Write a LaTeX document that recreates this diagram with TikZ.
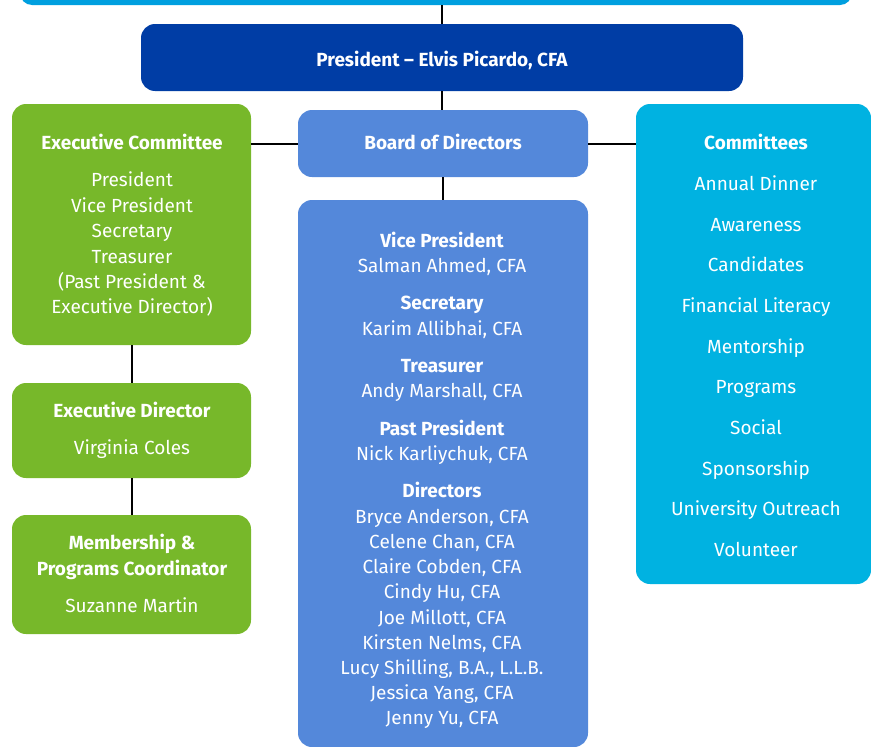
\documentclass[tikz,border=0pt]{standalone}
\usepackage{fontspec}
\setmainfont{Fira Sans}
\definecolor{barblue}{HTML}{009FDF}
\definecolor{presblue}{HTML}{003DA5}
\definecolor{boardblue}{HTML}{5488DA}
\definecolor{execgreen}{HTML}{77B82A}
\definecolor{commblue}{HTML}{00B2E1}
\tikzset{
	box/.style={rounded corners=14pt, inner sep=0pt, draw=none},
	txt/.style={text=white, inner sep=0pt, text height=17pt, text depth=4pt,
		font=\fontsize{19}{21}\selectfont},
	head/.style={txt, font=\fontsize{19}{21}\selectfont\bfseries},
	link/.style={line width=2pt, black}
}
\begin{document}
\begin{tikzpicture}[x=1pt, y=-1pt]
	\useasboundingbox (0,0) rectangle (871,747);
	% Kaesten
	\node[box, fill=barblue, minimum width=832pt, minimum height=30pt, rounded corners=12pt] (bar) at (436,-10) {};
	\node[box, fill=presblue, minimum width=602pt, minimum height=67pt] (pres) at (442,57.5) {};
	\node[box, fill=boardblue, minimum width=290pt, minimum height=67pt] (board) at (443,143.5) {};
	\node[box, fill=execgreen, minimum width=239pt, minimum height=241pt] (exec) at (131.5,224.5) {};
	\node[box, fill=execgreen, minimum width=239pt, minimum height=95pt] (execdir) at (131.5,430.5) {};
	\node[box, fill=execgreen, minimum width=239pt, minimum height=119pt] (member) at (131.5,574.5) {};
	\node[box, fill=commblue, minimum width=235pt, minimum height=480pt] (comm) at (753.5,344) {};
	\node[box, fill=boardblue, minimum width=290pt, minimum height=547pt] (dirs) at (443,473.5) {};
	% Verbindungen
	\draw[link] (pres.north) -- (pres.north |- bar.south);
	\draw[link] (pres.south) -- (pres.south |- board.north);
	\draw[link] (board.west) -- (exec.east |- board.west);
	\draw[link] (board.east) -- (comm.west |- board.east);
	\draw[link] (board.south) -- (board.south |- dirs.north);
	\draw[link] (exec.south) -- (execdir.north);
	\draw[link] (execdir.south) -- (member.north);
	% Praesident und Vorstand
	\node[head] (prestxt) at (442,60) {President – Elvis Picardo, CFA};
	\node[head] (boardtxt) at (443,143) {Board of Directors};
	% Executive Committee
	\node[head] (exectitle) at (132,143) {Executive Committee};
	\foreach \role [count=\i] in {President, Vice President, Secretary, Treasurer, {(Past President \&}, {Executive Director)}}
		\node[txt] (e\i) at (132, 155+25.4*\i) {\role};
	% Executive Director
	\node[head] (edtitle) at (132,411) {Executive Director};
	\node[txt] (edname) at (132,448) {Virginia Coles};
	% Membership
	\node[head] (mtitle1) at (132,543) {Membership \&};
	\node[head] (mtitle2) at (132,569) {Programs Coordinator};
	\node[txt] (mname) at (132,606) {Suzanne Martin};
	% Committees
	\node[head] (commtitle) at (756,143) {Committees};
	\foreach \name [count=\i] in {Annual Dinner, Awareness, Candidates, Financial Literacy, Mentorship, Programs, Social, Sponsorship, University Outreach, Volunteer}
		\node[txt] (c\i) at (756, 143.4+40.65*\i) {\name};
	% Officers
	\node[head] (vptitle) at (442,241) {Vice President};
	\node[txt] (vpname) at (442,266) {Salman Ahmed, CFA};
	\node[head] (sectitle) at (442,303) {Secretary};
	\node[txt] (secname) at (442,329) {Karim Allibhai, CFA};
	\node[head] (trtitle) at (442,366) {Treasurer};
	\node[txt] (trname) at (442,391) {Andy Marshall, CFA};
	\node[head] (pptitle) at (442,429) {Past President};
	\node[txt] (ppname) at (442,454) {Nick Karliychuk, CFA};
	% Directors
	\node[head] (dirtitle) at (442,491) {Directors};
	\foreach \name [count=\i] in {{Bryce Anderson, CFA}, {Celene Chan, CFA}, {Claire Cobden, CFA}, {Cindy Hu, CFA}, {Joe Millott, CFA}, {Kirsten Nelms, CFA}, {Lucy Shilling, B.A., L.L.B.}, {Jessica Yang, CFA}, {Jenny Yu, CFA}}
		\node[txt] (d\i) at (442, 491.6+25.2*\i) {\name};
\end{tikzpicture}
\end{document}
